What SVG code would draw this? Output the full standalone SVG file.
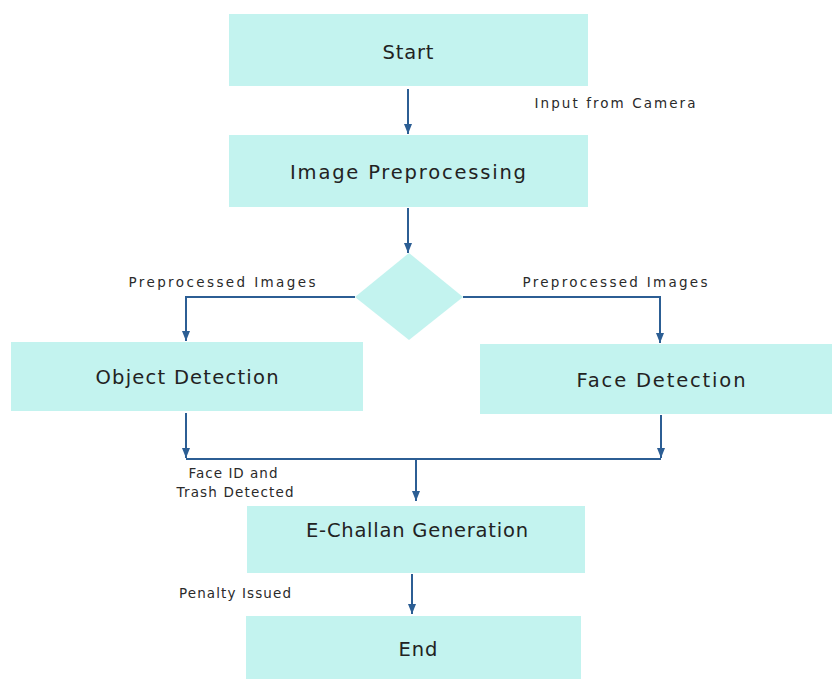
<svg xmlns="http://www.w3.org/2000/svg" width="832" height="679" viewBox="0 0 832 679">
<defs>
<style>
.box{fill:#c3f3ef;}
.t{font-family:"DejaVu Sans","Liberation Sans",sans-serif;fill:#222;text-anchor:middle;}
.big{font-size:19.5px;}
.lbl{font-size:13.5px;fill:#2a2a2a;}
.ln{fill:none;stroke:#2c5e94;stroke-width:2;}
</style>
<marker id="ah" viewBox="0 0 10 8" refX="10" refY="4" markerWidth="10" markerHeight="8" markerUnits="userSpaceOnUse" orient="auto">
<path d="M0,0 L10,4 L0,8 Z" fill="#2c5e94"/>
</marker>
</defs>
<rect width="832" height="679" fill="#ffffff"/>
<g id="connectors">
<line class="ln" x1="408" y1="89" x2="408" y2="134" marker-end="url(#ah)"/>
<line class="ln" x1="408" y1="208" x2="408" y2="253" marker-end="url(#ah)"/>
<polyline class="ln" points="355,297 186,297 186,341" marker-end="url(#ah)"/>
<polyline class="ln" points="463,297 660,297 660,343" marker-end="url(#ah)"/>
<line class="ln" x1="186" y1="413" x2="186" y2="458" marker-end="url(#ah)"/>
<line class="ln" x1="661" y1="415" x2="661" y2="458" marker-end="url(#ah)"/>
<line class="ln" x1="186" y1="459" x2="661" y2="459"/>
<line class="ln" x1="416" y1="459" x2="416" y2="501" marker-end="url(#ah)"/>
<line class="ln" x1="412" y1="574" x2="412" y2="614" marker-end="url(#ah)"/>
<text class="t lbl" x="615" y="108" textLength="161" lengthAdjust="spacing">Input from Camera</text>
<text class="t lbl" x="222" y="287" textLength="187" lengthAdjust="spacing">Preprocessed Images</text>
<text class="t lbl" x="615" y="287" textLength="185" lengthAdjust="spacing">Preprocessed Images</text>
<text class="t lbl" x="233" y="478" textLength="89" lengthAdjust="spacing">Face ID and</text>
<text class="t lbl" x="235" y="497" textLength="117" lengthAdjust="spacing">Trash Detected</text>
<text class="t lbl" x="235" y="598" textLength="112" lengthAdjust="spacing">Penalty Issued</text>
</g>
<g id="start">
<rect class="box" x="229" y="14" width="359" height="72"/>
<text class="t big" x="408" y="59" textLength="51" lengthAdjust="spacing">Start</text>
</g>
<g id="preprocessing">
<rect class="box" x="229" y="135" width="359" height="72"/>
<text class="t big" x="408" y="179" textLength="236" lengthAdjust="spacing">Image Preprocessing</text>
</g>
<g id="decision">
<polygon class="box" points="409,253 463,297 409,340 355,297"/>
</g>
<g id="object-detection">
<rect class="box" x="11" y="342" width="352" height="69"/>
<text class="t big" x="187" y="384" textLength="183" lengthAdjust="spacing">Object Detection</text>
</g>
<g id="face-detection">
<rect class="box" x="480" y="344" width="352" height="70"/>
<text class="t big" x="661" y="387" textLength="169" lengthAdjust="spacing">Face Detection</text>
</g>
<g id="echallan">
<rect class="box" x="247" y="506" width="338" height="67"/>
<text class="t big" x="417" y="537" textLength="222" lengthAdjust="spacing">E-Challan Generation</text>
</g>
<g id="end">
<rect class="box" x="246" y="616" width="335" height="63"/>
<text class="t big" x="418" y="656" textLength="39" lengthAdjust="spacing">End</text>
</g>
</svg>
